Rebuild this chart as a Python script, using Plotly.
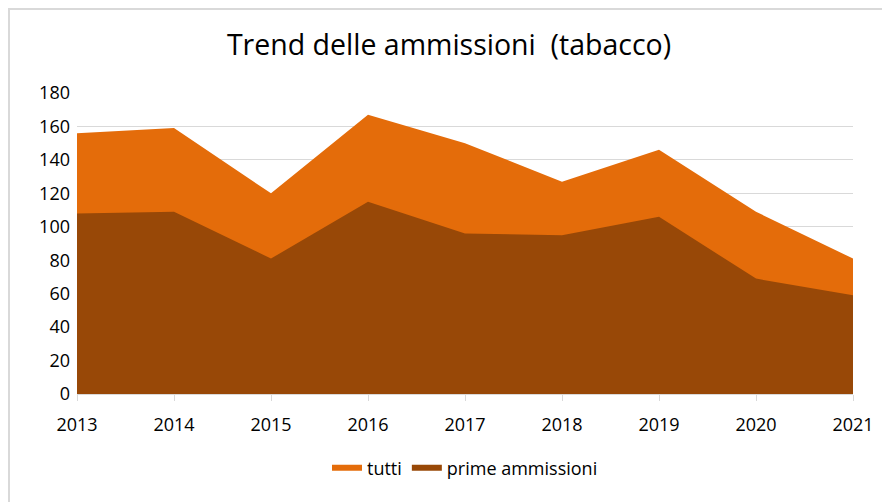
import plotly.graph_objects as go

anni = ["2013", "2014", "2015", "2016", "2017", "2018", "2019", "2020", "2021"]
tutti = [156, 159, 120, 167, 150, 127, 146, 109, 81]
prime_ammissioni = [108, 109, 81, 115, 96, 95, 106, 69, 59]

fig = go.Figure()
fig.add_trace(go.Scatter(x=anni, y=tutti, name="tutti", mode="none",
                         fill="tozeroy", fillcolor="#E46C0A"))
fig.add_trace(go.Scatter(x=anni, y=prime_ammissioni, name="prime ammissioni", mode="none",
                         fill="tozeroy", fillcolor="#984807"))

# the page body has an 8px margin, so the figure is a bit smaller
W, H = 882, 494
L, R, T, B = 69, 37, 85, 108
pw, ph = W - L - R, H - T - B

# light grey frame round the chart, as in the original
fig.add_shape(type="rect", xref="paper", yref="paper",
              x0=-(L - 1) / pw, x1=1.3, y0=-0.6, y1=(ph + T - 1) / ph,
              line=dict(color="#D9D9D9", width=2), fillcolor="rgba(0,0,0,0)")

fig.update_layout(
    width=W, height=H,
    paper_bgcolor="white", plot_bgcolor="white",
    margin=dict(l=L, r=R, t=T, b=B),
    font=dict(family="Open Sans", size=18, color="#000000"),
    title=dict(text="Trend delle ammissioni  (tabacco)", x=0.5, xanchor="center",
               y=1 - 37 / H, yanchor="middle", font=dict(size=28.5)),
    xaxis=dict(type="category", showgrid=False, showline=True, linecolor="#D9D9D9",
               ticks="outside", tickcolor="#D9D9D9", ticklen=6, range=[0, 8],
               tickfont=dict(size=18), ticklabelstandoff=8),
    yaxis=dict(range=[0, 180], dtick=20, showgrid=True, gridcolor="#D9D9D9",
               zeroline=False, ticks="", ticklabelstandoff=6,
               tickfont=dict(size=18)),
    legend=dict(orientation="h", x=0.5, xanchor="center", y=-0.246, yanchor="middle",
                font=dict(size=18), itemwidth=30, tracegroupgap=0),
    showlegend=True,
)

fig.write_html("out.html")
